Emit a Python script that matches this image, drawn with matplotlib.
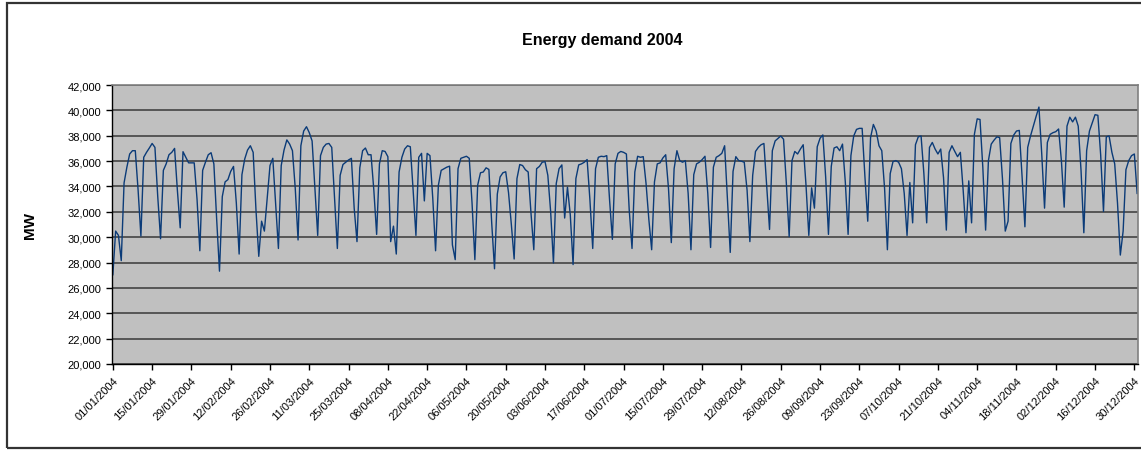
import matplotlib

matplotlib.use("Agg")
import matplotlib.pyplot as plt  # noqa: E402
import numpy as np  # noqa: E402
import pandas as pd  # noqa: E402

# Daily demand 2004 (MW)
DEMAND_MW = [
    27040, 30480, 30140, 28150, 34280, 35520, 36560, 36820, 36820, 33710,
    30090, 36300, 36690, 37030, 37390, 37080, 33200, 29880, 35270, 35780,
    36500, 36690, 37000, 33690, 30740, 36740, 36300, 35860, 35860, 35860,
    33000, 28930, 35270, 35910, 36500, 36660, 35780, 31390, 27320, 33200,
    34360, 34540, 35190, 35580, 32700, 28670, 34930, 36170, 36870, 37210,
    36690, 32160, 28490, 31260, 30480, 33070, 35650, 36220, 32680, 29110,
    35650, 36870, 37670, 37340, 36820, 33840, 29780, 37210, 38370, 38710,
    38240, 37590, 33840, 30140, 36430, 37080, 37340, 37390, 37080, 33070,
    29110, 34880, 35730, 35910, 36090, 36220, 32290, 29650, 35470, 36820,
    37030, 36500, 36500, 33710, 30220, 35780, 36820, 36760, 36350, 29650,
    30870, 28670, 35140, 36300, 36950, 37210, 37130, 33710, 30140, 36300,
    36610, 32860, 36610, 36430, 33070, 28930, 34100, 35270, 35400, 35520,
    35600, 29390, 28230, 35400, 36220, 36300, 36380, 36220, 32680, 28230,
    34100, 35080, 35140, 35470, 35340, 31130, 27510, 33400, 34750, 35080,
    35160, 33500, 31000, 28280, 34620, 35730, 35650, 35320, 35140, 31900,
    29010, 35400, 35580, 35910, 35960, 34880, 32030, 27970, 34230, 35400,
    35700, 31510, 33940, 31770, 27840, 34620, 35700, 35780, 35910, 36120,
    32940, 29110, 35400, 36300, 36380, 36350, 36430, 32940, 29830, 35780,
    36610, 36760, 36690, 36560, 32160, 29110, 35140, 36380, 36300, 36350,
    34230, 31390, 29010, 34360, 35780, 35860, 36250, 36500, 33840, 29570,
    35400, 36820, 36040, 35910, 36040, 33450, 29010, 34930, 35780, 35910,
    36120, 36380, 33450, 29190, 35520, 36300, 36430, 36610, 37210, 32940,
    28800, 35190, 36350, 36040, 35990, 35910, 33710, 29650, 34880, 36760,
    37080, 37290, 37390, 33970, 30610, 36820, 37590, 37780, 37980, 37720,
    34230, 30040, 36040, 36760, 36560, 36950, 37290, 34100, 30140, 33890,
    32290, 37130, 37800, 38060, 34750, 30220, 35580, 37030, 37130, 36820,
    37340, 34360, 30220, 36430, 37980, 38500, 38580, 38580, 34750, 31260,
    37850, 38890, 38370, 37210, 36820, 33840, 29010, 35010, 35960, 36040,
    35910, 35400, 33450, 30140, 34310, 31130, 37290, 37910, 37980, 35010,
    31130, 37080, 37470, 36950, 36560, 36950, 34700, 30560, 36690, 37210,
    36770, 36350, 36690, 33710, 30350, 34440, 31130, 38110, 39330, 39280,
    35520, 30560, 36040, 37340, 37650, 37910, 37850, 34620, 30480, 31260,
    37390, 38050, 38370, 38420, 34750, 30820, 37080, 37980, 38760, 39530,
    40260, 36560, 32290, 37470, 38110, 38240, 38320, 38530, 36040, 32370,
    38760, 39460, 39090, 39460, 38760, 35270, 30350, 36820, 38370, 39020,
    39660, 39610, 36480, 32030, 37910, 37980, 36690, 35780, 32680, 28590,
    30480, 35320, 36040, 36430, 36560, 33450,
]
DATES = pd.date_range("2004-01-01", periods=len(DEMAND_MW), freq="D")
TICK_EVERY_DAYS = 14
Y_TICKS = list(range(20000, 42001, 2000))

W, H = 1141, 452
fig = plt.figure(figsize=(W / 100, H / 100), dpi=100)
plt.rcParams["font.family"] = ["Liberation Sans", "DejaVu Sans"]

# chart-area frame (right edge runs off the canvas, as in the source)
fig.patches.append(plt.Rectangle((7 / W, 3 / H), (W + 10 - 7) / W, (H - 7) / H,
                                 transform=fig.transFigure, fill=False,
                                 edgecolor="#333333", linewidth=1.6))

ax = fig.add_axes([112 / W, (H - 365) / H, (1138 - 112) / W, (365 - 86) / H])
ax.set_facecolor("#c0c0c0")

x = np.arange(len(DEMAND_MW))
ax.plot(x, DEMAND_MW, color="#0b3b78", linewidth=1.0)

ax.set_xlim(-0.3, len(DEMAND_MW) - 0.7)
ax.set_ylim(20000, 42000)
ax.set_yticks(Y_TICKS)
ax.set_yticklabels([f"{v:,}" for v in Y_TICKS], fontsize=8)
ax.grid(axis="y", color="#4d4d4d", linewidth=1.3)
ax.set_axisbelow(True)

tick_pos = x[::TICK_EVERY_DAYS]
ax.set_xticks(tick_pos)
ax.set_xticklabels([DATES[i].strftime("%d/%m/%Y") for i in tick_pos],
                   rotation=45, ha="right", rotation_mode="anchor", fontsize=8)
ax.tick_params(axis="both", direction="out", length=4, width=1, color="black")
ax.tick_params(axis="x", pad=4)

for side in ("top", "right"):
    ax.spines[side].set_color("#808080")
    ax.spines[side].set_linewidth(1.2)
for side in ("left", "bottom"):
    ax.spines[side].set_color("black")
    ax.spines[side].set_linewidth(1.0)

ax.set_ylabel("MW", fontsize=11, fontweight="bold", labelpad=22)
fig.text(0.528, (H - 40) / H, "Energy demand 2004", ha="center", va="center",
         fontsize=11.5, fontweight="bold")

fig.savefig("out.png", dpi=100)
